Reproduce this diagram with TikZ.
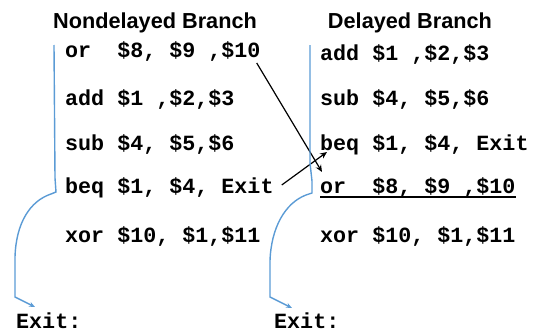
\documentclass[tikz,border=0pt]{standalone}
\usepackage{fontspec}
\setmainfont{Liberation Sans}
\newfontfamily\codefont{Liberation Mono}
\usetikzlibrary{arrows.meta}
\definecolor{flowblue}{RGB}{91,155,213}
\begin{document}
\begin{tikzpicture}[x=1pt, y=1pt,
        title/.style={inner sep=0pt, anchor=base, font=\fontsize{21.7}{26}\selectfont\bfseries},
        code/.style={inner sep=0pt, anchor=base west, font=\fontsize{21.7}{26}\selectfont\codefont\bfseries},
        flow/.style={draw=flowblue, line width=1.4pt, -{Stealth[length=6pt, width=5pt]}},
        jump/.style={draw=black, line width=1.2pt, -{Stealth[length=7pt, width=6pt]}}]
        \useasboundingbox (0, 0) rectangle (535, 333);
        \node[title] (tl) at (155, 305) {Nondelayed Branch};
        \node[title] (tr) at (410, 305) {Delayed Branch};
        \node[code] (lor) at (65, 276) {or\ \ \$8, \$9 ,\$10};
        \node[code] (ladd) at (65, 228) {add \$1 ,\$2,\$3};
        \node[code] (lsub) at (65, 183) {sub \$4, \$5,\$6};
        \node[code] (lbeq) at (65, 140) {beq \$1, \$4, Exit};
        \node[code] (lxor) at (65, 91) {xor \$10, \$1,\$11};
        \node[code] (lexit) at (16, 5) {Exit:};
        \node[code] (radd) at (320, 273) {add \$1 ,\$2,\$3};
        \node[code] (rsub) at (320, 228) {sub \$4, \$5,\$6};
        \node[code] (rbeq) at (320, 183) {beq \$1, \$4, Exit};
        \node[code] (ror) at (320, 140) {or\ \ \$8, \$9 ,\$10};
        \node[code] (rxor) at (320, 91) {xor \$10, \$1,\$11};
        \node[code] (rexit) at (274, 5) {Exit:};
        \draw[line width=1.5pt] ([yshift=-4pt]ror.base west) -- ([yshift=-4pt]ror.base east);
        \draw[jump] ([shift={(-4, -6)}]lor.base east) -- ([shift={(2, 21)}]ror.base west);
        \draw[jump] ([shift={(8, 8)}]lbeq.base east) -- ([shift={(7, -2)}]rbeq.base west);
        \draw[flow] (54, 288) -- (55, 155) -- (56, 141) -- (51, 139)
            .. controls (30, 132) and (16, 110) .. (15, 76) -- (15, 36)
            -- ([shift={(19, 21)}]lexit.base west);
        \draw[flow] (310, 288) -- (310, 170) -- (312, 152) -- (312, 140) -- (306, 138)
            .. controls (285, 130) and (271, 105) .. (270, 72) -- (270, 36)
            -- ([shift={(18, 20)}]rexit.base west);
\end{tikzpicture}
\end{document}
